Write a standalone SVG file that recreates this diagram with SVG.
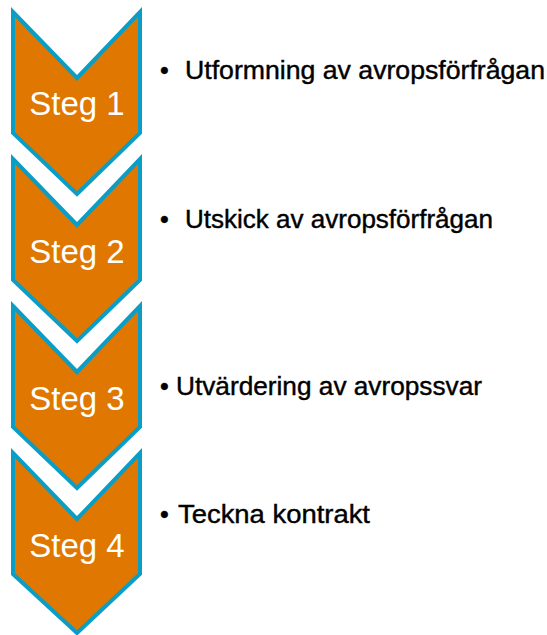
<svg xmlns="http://www.w3.org/2000/svg" width="547" height="635" viewBox="0 0 547 635">
<style>
.chev{fill:#DF7700;stroke:#0A9EC6;stroke-width:4;stroke-linejoin:miter}
.lbl{font-family:"Liberation Sans",Arial,sans-serif;font-size:33px;fill:#fff;text-anchor:middle}
.item{font-family:"Liberation Sans",Arial,sans-serif;font-size:25px;fill:#000;stroke:#000;stroke-width:0.4}
</style>
<rect width="547" height="635" fill="#fff"/>
<g id="step1">
<polygon class="chev" points="13,12 77,78 140,12 140,133 77,194 13,133"/>
<text class="lbl" x="77" y="115">Steg 1</text>
</g>
<g id="step2">
<polygon class="chev" points="13,159 77,225 140,159 140,280 77,341 13,280"/>
<text class="lbl" x="77" y="263">Steg 2</text>
</g>
<g id="step3">
<polygon class="chev" points="13,306 77,372 140,306 140,427 77,488 13,427"/>
<text class="lbl" x="77" y="410">Steg 3</text>
</g>
<g id="step4">
<polygon class="chev" points="13,453 77,519 140,453 140,574 77,633 13,574"/>
<text class="lbl" x="77" y="557">Steg 4</text>
</g>
<g id="items">
<text class="item" x="160" y="79">•</text>
<text class="item" x="185" y="79" textLength="360" lengthAdjust="spacingAndGlyphs">Utformning av avropsförfrågan</text>
<text class="item" x="160" y="228">•</text>
<text class="item" x="185" y="228" textLength="308" lengthAdjust="spacingAndGlyphs">Utskick av avropsförfrågan</text>
<text class="item" x="160" y="395">•</text>
<text class="item" x="176" y="395" textLength="306" lengthAdjust="spacingAndGlyphs">Utvärdering av avropssvar</text>
<text class="item" x="160" y="523">•</text>
<text class="item" x="178" y="523" textLength="192" lengthAdjust="spacingAndGlyphs">Teckna kontrakt</text>
</g>
</svg>
